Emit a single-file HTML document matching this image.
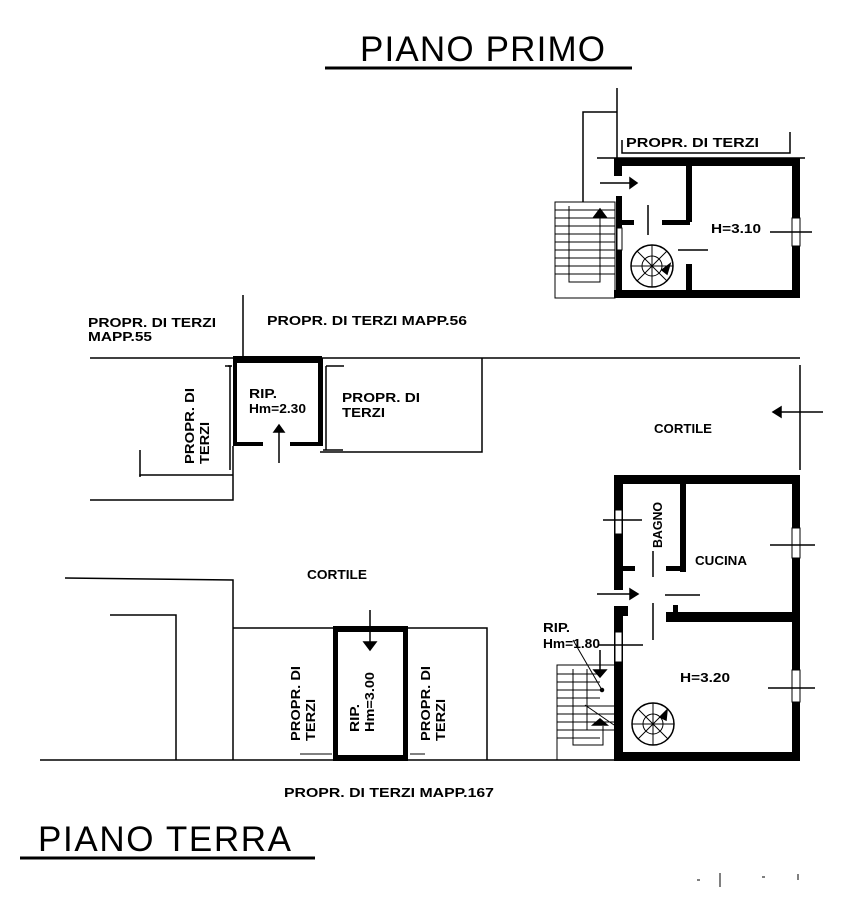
<!DOCTYPE html>
<html><head><meta charset="utf-8"><style>
html,body{margin:0;padding:0;background:#fff;}
svg{display:block;}
text{font-family:"Liberation Sans",sans-serif;font-weight:bold;fill:#000;}
.t{font-size:12.5px;}
.ti{font-weight:normal;font-size:35px;}
</style></head><body>
<svg width="841" height="900" viewBox="0 0 841 900" xmlns="http://www.w3.org/2000/svg">
<g stroke="#000" fill="none" stroke-width="1.5">
<line x1="325" y1="68" x2="632" y2="68" stroke-width="3"/>
<line x1="20" y1="858" x2="315" y2="858" stroke-width="3"/>

<!-- ============ PIANO PRIMO ============ -->
<line x1="617" y1="88" x2="617" y2="160"/>
<polyline points="583,202 583,112 617,112"/>
<polyline points="622,140 622,153 790,153 790,132"/>
<line x1="597" y1="158" x2="805" y2="158"/>
<rect x="614" y="158" width="186" height="8" fill="#000" stroke="none"/>
<rect x="614" y="290" width="186" height="8" fill="#000" stroke="none"/>
<rect x="792" y="158" width="8" height="140" fill="#000" stroke="none"/>
<rect x="614" y="158" width="8" height="18" fill="#000" stroke="none"/>
<rect x="616" y="196" width="6" height="102" fill="#000" stroke="none"/>
<rect x="686" y="158" width="6" height="64" fill="#000" stroke="none"/>
<rect x="686" y="264" width="6" height="30" fill="#000" stroke="none"/>
<rect x="662" y="220" width="28" height="5" fill="#000" stroke="none"/>
<rect x="620" y="220" width="14" height="5" fill="#000" stroke="none"/>
<rect x="617" y="228" width="5" height="22" fill="#fff" stroke="#000" stroke-width="1"/>
<rect x="792" y="218" width="8" height="28" fill="#fff" stroke="#000" stroke-width="1"/>
<line x1="770" y1="232" x2="812" y2="232"/>
<line x1="648" y1="205" x2="648" y2="235"/>
<line x1="678" y1="250" x2="708" y2="250"/>
<line x1="600" y1="183" x2="630" y2="183"/>
<polygon points="630,178 637,183 630,188" fill="#000"/>
<rect x="555" y="202" width="60" height="96" stroke-width="1"/>
<g stroke-width="1">
<line x1="555" y1="210" x2="615" y2="210"/><line x1="555" y1="218" x2="615" y2="218"/>
<line x1="555" y1="226" x2="615" y2="226"/><line x1="555" y1="234" x2="615" y2="234"/>
<line x1="555" y1="242" x2="615" y2="242"/><line x1="555" y1="250" x2="615" y2="250"/>
<line x1="555" y1="258" x2="615" y2="258"/><line x1="555" y1="266" x2="615" y2="266"/>
<line x1="555" y1="274" x2="615" y2="274"/>
<polyline points="569,206 569,282 600,282 600,212"/>
</g>
<polygon points="594,217 600,209 606,217" fill="#000"/>
<circle cx="652" cy="266" r="21"/>
<circle cx="652" cy="266" r="10" stroke-width="1"/>
<line x1="631" y1="266" x2="673" y2="266" stroke-width="1"/>
<line x1="652" y1="245" x2="652" y2="287" stroke-width="1"/>
<line x1="637" y1="251" x2="667" y2="281" stroke-width="1"/>
<line x1="637" y1="281" x2="667" y2="251" stroke-width="1"/>
<polygon points="662,270 670,264 667,274" fill="#000"/>

<!-- ============ PIANO TERRA ============ -->
<line x1="243" y1="295" x2="243" y2="358"/>
<line x1="90" y1="358" x2="800" y2="358"/>
<rect x="233" y="356" width="89" height="7" fill="#000" stroke="none"/>
<rect x="233" y="358" width="4" height="88" fill="#000" stroke="none"/>
<rect x="318" y="358" width="5" height="88" fill="#000" stroke="none"/>
<rect x="233" y="442" width="30" height="4" fill="#000" stroke="none"/>
<rect x="290" y="442" width="33" height="4" fill="#000" stroke="none"/>
<line x1="279" y1="432" x2="279" y2="463"/>
<polygon points="274,432 279,425 284,432" fill="#000"/>
<polyline points="228,366 230,366 230,470"/>
<polyline points="140,477 140,475 233,475"/>
<line x1="140" y1="450" x2="140" y2="476"/>
<polyline points="233,446 233,500 90,500"/>
<line x1="225" y1="366" x2="232" y2="366"/>
<polyline points="326,366 344,366"/>
<line x1="326" y1="366" x2="326" y2="450"/>
<line x1="323" y1="450" x2="343" y2="450"/>
<polyline points="320,452 482,452 482,358"/>
<line x1="800" y1="365" x2="800" y2="470"/>
<line x1="823" y1="412" x2="780" y2="412"/>
<polygon points="781,407 773,412 781,417" fill="#000"/>

<rect x="614" y="475" width="186" height="9" fill="#000" stroke="none"/>
<rect x="614" y="752" width="186" height="9" fill="#000" stroke="none"/>
<rect x="792" y="475" width="8" height="286" fill="#000" stroke="none"/>
<rect x="614" y="475" width="9" height="115" fill="#000" stroke="none"/>
<rect x="614" y="606" width="9" height="155" fill="#000" stroke="none"/>
<rect x="614" y="606" width="14" height="10" fill="#000" stroke="none"/>
<rect x="680" y="480" width="6" height="92" fill="#000" stroke="none"/>
<rect x="666" y="612" width="134" height="10" fill="#000" stroke="none"/>
<rect x="673" y="605" width="5" height="10" fill="#000" stroke="none"/>
<rect x="623" y="566" width="12" height="5" fill="#000" stroke="none"/>
<rect x="666" y="566" width="20" height="5" fill="#000" stroke="none"/>
<rect x="615" y="510" width="7" height="24" fill="#fff" stroke="#000" stroke-width="1"/>
<rect x="615" y="632" width="7" height="30" fill="#fff" stroke="#000" stroke-width="1"/>
<rect x="792" y="528" width="8" height="30" fill="#fff" stroke="#000" stroke-width="1"/>
<rect x="792" y="670" width="8" height="32" fill="#fff" stroke="#000" stroke-width="1"/>
<line x1="603" y1="520" x2="642" y2="520"/>
<line x1="598" y1="645" x2="643" y2="645"/>
<line x1="770" y1="545" x2="815" y2="545"/>
<line x1="768" y1="688" x2="815" y2="688"/>
<line x1="653" y1="551" x2="653" y2="577"/>
<line x1="653" y1="603" x2="653" y2="640"/>
<line x1="665" y1="595" x2="700" y2="595"/>
<line x1="597" y1="594" x2="630" y2="594"/>
<polygon points="630,589 638,594 630,599" fill="#000"/>
<circle cx="653" cy="724" r="21"/>
<circle cx="653" cy="724" r="10" stroke-width="1"/>
<line x1="632" y1="724" x2="674" y2="724" stroke-width="1"/>
<line x1="653" y1="703" x2="653" y2="745" stroke-width="1"/>
<line x1="638" y1="709" x2="668" y2="739" stroke-width="1"/>
<line x1="638" y1="739" x2="668" y2="709" stroke-width="1"/>
<polygon points="660,717 667,710 666,720" fill="#000"/>
<polyline points="557,760 557,665 614,665" stroke-width="1"/>
<g stroke-width="1">
<line x1="557" y1="674" x2="600" y2="674"/><line x1="557" y1="682" x2="600" y2="682"/>
<line x1="557" y1="690" x2="600" y2="690"/><line x1="557" y1="698" x2="600" y2="698"/>
<line x1="557" y1="706" x2="614" y2="706"/><line x1="557" y1="714" x2="614" y2="714"/>
<line x1="557" y1="722" x2="614" y2="722"/><line x1="557" y1="730" x2="614" y2="730"/>
<line x1="557" y1="738" x2="600" y2="738"/>
<polyline points="573,669 573,745 603,745 603,726"/>
<polyline points="587,669 587,730"/>
<line x1="573" y1="640" x2="602" y2="690"/>
<line x1="585" y1="705" x2="614" y2="725"/>
</g>
<line x1="600" y1="650" x2="600" y2="672"/>
<polygon points="594,670 600,677 606,670" fill="#000"/>
<polygon points="593,725 600,719 607,725" fill="#000"/>
<circle cx="602" cy="690" r="1.5" fill="#000"/>

<line x1="40" y1="760" x2="800" y2="760"/>
<polyline points="65,578 233,580 233,760"/>
<polyline points="110,615 176,615 176,760"/>
<polyline points="233,628 487,628 487,760"/>
<rect x="333" y="626" width="75" height="6" fill="#000" stroke="none"/>
<rect x="333" y="628" width="5" height="132" fill="#000" stroke="none"/>
<rect x="403" y="628" width="5" height="132" fill="#000" stroke="none"/>
<rect x="333" y="755" width="75" height="6" fill="#000" stroke="none"/>
<line x1="300" y1="754" x2="332" y2="754" stroke-width="1"/>
<line x1="410" y1="754" x2="425" y2="754" stroke-width="1"/>
<line x1="370" y1="610" x2="370" y2="642"/>
<polygon points="364,642 370,650 376,642" fill="#000"/>
</g>

<text class="ti" x="360" y="61" textLength="245" lengthAdjust="spacing">PIANO PRIMO</text>
<text class="ti" x="38" y="851" textLength="253" lengthAdjust="spacing">PIANO TERRA</text>

<text class="t" x="626" y="147" textLength="133" lengthAdjust="spacingAndGlyphs">PROPR. DI TERZI</text>
<text class="t" x="711" y="233" textLength="50" lengthAdjust="spacingAndGlyphs">H=3.10</text>
<text class="t" x="88" y="327" textLength="128" lengthAdjust="spacingAndGlyphs">PROPR. DI TERZI</text>
<text class="t" x="88" y="341" textLength="64" lengthAdjust="spacingAndGlyphs">MAPP.55</text>
<text class="t" x="267" y="325" textLength="200" lengthAdjust="spacingAndGlyphs">PROPR. DI TERZI MAPP.56</text>
<text class="t" x="249" y="398" textLength="28" lengthAdjust="spacingAndGlyphs">RIP.</text>
<text class="t" x="249" y="413" textLength="57" lengthAdjust="spacingAndGlyphs">Hm=2.30</text>
<text class="t" x="342" y="402" textLength="78" lengthAdjust="spacingAndGlyphs">PROPR. DI</text>
<text class="t" x="342" y="417" textLength="43" lengthAdjust="spacingAndGlyphs">TERZI</text>
<text class="t" transform="translate(194,464) rotate(-90)" textLength="76" lengthAdjust="spacingAndGlyphs">PROPR. DI</text>
<text class="t" transform="translate(209,464) rotate(-90)" textLength="42" lengthAdjust="spacingAndGlyphs">TERZI</text>
<text class="t" x="654" y="433" textLength="58" lengthAdjust="spacingAndGlyphs">CORTILE</text>
<text class="t" transform="translate(662,548) rotate(-90)" textLength="46" lengthAdjust="spacingAndGlyphs">BAGNO</text>
<text class="t" x="695" y="565" textLength="52" lengthAdjust="spacingAndGlyphs">CUCINA</text>
<text class="t" x="680" y="682" textLength="50" lengthAdjust="spacingAndGlyphs">H=3.20</text>
<text class="t" x="543" y="632" textLength="27" lengthAdjust="spacingAndGlyphs">RIP.</text>
<text class="t" x="543" y="648" textLength="57" lengthAdjust="spacingAndGlyphs">Hm=1.80</text>
<text class="t" x="307" y="579" textLength="60" lengthAdjust="spacingAndGlyphs">CORTILE</text>
<text class="t" transform="translate(300,741) rotate(-90)" textLength="75" lengthAdjust="spacingAndGlyphs">PROPR. DI</text>
<text class="t" transform="translate(315,741) rotate(-90)" textLength="42" lengthAdjust="spacingAndGlyphs">TERZI</text>
<text class="t" transform="translate(359,732) rotate(-90)" textLength="28" lengthAdjust="spacingAndGlyphs">RIP.</text>
<text class="t" transform="translate(374,732) rotate(-90)" textLength="60" lengthAdjust="spacingAndGlyphs">Hm=3.00</text>
<text class="t" transform="translate(430,741) rotate(-90)" textLength="75" lengthAdjust="spacingAndGlyphs">PROPR. DI</text>
<text class="t" transform="translate(445,741) rotate(-90)" textLength="42" lengthAdjust="spacingAndGlyphs">TERZI</text>
<text class="t" x="284" y="797" textLength="210" lengthAdjust="spacingAndGlyphs">PROPR. DI TERZI MAPP.167</text>
<g stroke="#000" stroke-width="1"><line x1="720" y1="873" x2="720" y2="887"/><line x1="697" y1="880" x2="700" y2="880"/><line x1="762" y1="877" x2="765" y2="877"/><line x1="798" y1="874" x2="798" y2="880"/></g>
</svg>
</body></html>
